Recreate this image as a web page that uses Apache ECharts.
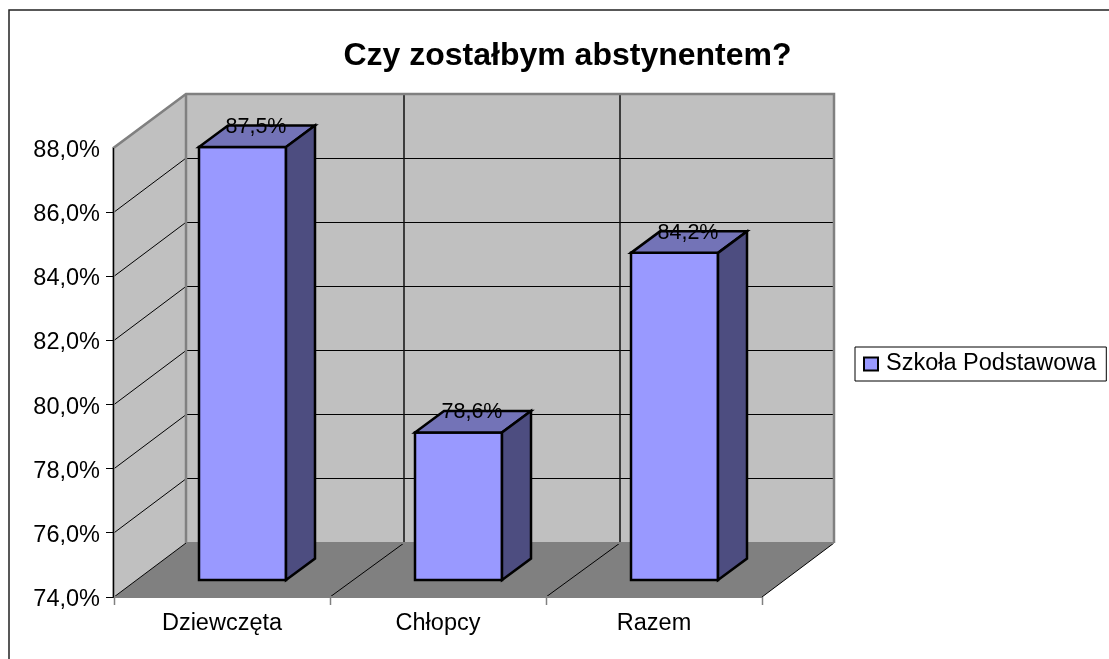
<!DOCTYPE html>
<html><head><meta charset="utf-8">
<style>html,body{margin:0;padding:0;background:#fff}#c{width:1109px;height:659px}</style>
<script src="https://cdn.jsdelivr.net/npm/echarts@6/dist/echarts.min.js"></script>
</head><body><div id="c"></div>
<script>
const categories = ['Dziewczęta', 'Chłopcy', 'Razem'];
const values = [87.5, 78.6, 84.2];
const tickValues = [74, 76, 78, 80, 82, 84, 86, 88];
const seriesName = 'Szkoła Podstawowa';
const chartTitle = 'Czy zostałbym abstynentem?';

const FONT = '"Liberation Sans", Arial, sans-serif';
const DX = 72, DY = -54;           // full floor depth
const GL = 114, GT = 148, GW = 648, GH = 449;
const barFrac = 87 / 216;
const nearX = 20.5, nearY = -17, farX = 49.5, farY = -38.5;
const VGRID_SHIFT = 2;
const WALL = '#c0c0c0', FLOOR = '#808080', EDGE = '#808080';

const chart = echarts.init(document.getElementById('c'), null, {renderer: 'canvas'});

const snap = v => Math.round(v - 0.5) + 0.5;
function line(a, b, stroke, w) {
  return {type: 'line', shape: {x1: a[0], y1: a[1], x2: b[0], y2: b[1]}, style: {stroke, lineWidth: w}, silent: true};
}
function poly(pts, fill, stroke, w) {
  return {type: 'polygon', shape: {points: pts}, style: {fill, stroke: stroke || 'none', lineWidth: w || 0, lineJoin: 'miter'}, silent: true};
}

function renderWalls(params, api) {
  const left = params.coordSys.x, width = params.coordSys.width;
  const yBot = api.coord([0, 74])[1], yTop = api.coord([0, 88])[1];
  const right = left + width;
  const kids = [];
  kids.push(poly([[left, yTop], [left + DX, yTop + DY], [left + DX, yBot + DY], [left, yBot]], WALL));
  kids.push(poly([[left + DX, yTop + DY], [right + DX, yTop + DY], [right + DX, yBot + DY], [left + DX, yBot + DY]], WALL));
  kids.push(poly([[left, yBot], [left + DX, yBot + DY], [right + DX, yBot + DY], [right, yBot]], FLOOR));
  tickValues.forEach(function (t, i) {
    const y = api.coord([0, t])[1];
    if (i > 0 && i < tickValues.length - 1) {
      kids.push(line([left, y], [left + DX, y + DY], '#000', 1));
      const sy = snap(y + DY);
      kids.push(line([left + DX, sy], [right + DX, sy], '#000', 1));
    }
  });
  for (let i = 1; i < categories.length; i++) {
    const x = left + width * i / categories.length;
    const sx = x + DX + VGRID_SHIFT;
    kids.push(line([sx, yTop + DY], [sx, yBot + DY], '#111', 1.5));
    kids.push(line([x, yBot], [sx, yBot + DY], '#000', 1));
  }
  kids.push(line([left, yBot], [left + DX, yBot + DY], '#000', 1));
  kids.push(line([right, yBot], [right + DX, yBot + DY], '#000', 1));
  kids.push({type: 'polyline', shape: {points: [[left - 0.5, yBot], [left - 0.5, yTop], [left + DX, yTop + DY], [right + DX, yTop + DY], [right + DX, yBot + DY]]},
    style: {fill: 'none', stroke: EDGE, lineWidth: 2.5}, silent: true});
  kids.push(line([left + DX, yTop + DY], [left + DX, yBot + DY], EDGE, 2.5));
  kids.push(line([left + DX, yBot + DY], [right + DX, yBot + DY], EDGE, 2));
  kids.push(line([left, yBot], [right, yBot], EDGE, 2));
  kids.push(line([left - 0.5, yTop], [left - 0.5, yBot], '#000', 1));
  tickValues.forEach(function (t, i) {
    if (i === tickValues.length - 1) return;
    const y = snap(api.coord([0, t])[1]);
    kids.push(line([left - 8, y], [left, y], '#000', 1));
  });
  for (let i = 0; i <= categories.length; i++) {
    const x = snap(left + width * i / categories.length);
    kids.push(line([x, yBot], [x, yBot + 8], EDGE, 1.5));
  }
  return {type: 'group', children: kids};
}

function renderBar(params, api) {
  const cat = api.value(0), val = api.value(1);
  const cw = params.coordSys.width / categories.length;
  const cx = api.coord([cat, val])[0];
  const yT = api.coord([cat, val])[1], yB = api.coord([cat, 74])[1];
  const bw = cw * barFrac;
  const x0 = cx - bw / 2 + nearX, x1 = x0 + bw;
  const yt = yT + nearY, yb = yB + nearY;
  const ddx = farX - nearX, ddy = farY - nearY;
  const S = '#000', W = 2.5;
  return {type: 'group', children: [
    poly([[x0, yb], [x1, yb], [x1, yt], [x0, yt]], '#9999ff', S, W),
    poly([[x0, yt], [x1, yt], [x1 + ddx, yt + ddy], [x0 + ddx, yt + ddy]], '#7373b7', S, W),
    poly([[x1, yb], [x1 + ddx, yb + ddy], [x1 + ddx, yt + ddy], [x1, yt]], '#4d4d80', S, W),
    {type: 'text', x: (x0 + x1) / 2 + ddx / 2 - 1, y: yt + ddy + 1.5,
      style: {text: val.toFixed(1).replace('.', ',') + '%', fill: '#000', font: '21.5px ' + FONT, textAlign: 'center', textVerticalAlign: 'middle'}, silent: true, z2: 10}
  ]};
}

chart.setOption({
  animation: false,
  backgroundColor: '#fff',
  title: {text: chartTitle, left: 562.5, top: 35, textAlign: 'center',
    textStyle: {fontFamily: FONT, fontSize: 32, fontWeight: 'bold', color: '#000'}},
  graphic: [{type: 'rect', shape: {x: 9, y: 10, width: 1110, height: 660}, style: {fill: 'none', stroke: '#222', lineWidth: 1.5}, silent: true, z: -1}],
  legend: {show: true, left: 855, top: 347, orient: 'horizontal', padding: [5, 10, 5, 8],
    backgroundColor: '#fff', borderColor: '#000', borderWidth: 1, borderRadius: 0,
    itemWidth: 14, itemHeight: 13, itemGap: 0,
    textStyle: {fontFamily: FONT, fontSize: 23.5, color: '#000', padding: [0, 0, 0, 3]},
    data: [{name: seriesName, icon: 'rect', itemStyle: {color: '#9999ff', borderColor: '#000', borderWidth: 2}}]},
  grid: {left: GL, top: GT, width: GW, height: GH, show: false},
  xAxis: {type: 'category', data: categories, boundaryGap: true,
    axisLine: {show: false}, axisTick: {show: false}, splitLine: {show: false},
    axisLabel: {fontFamily: FONT, fontSize: 23.5, color: '#000', margin: 15}},
  yAxis: {type: 'value', min: 74, max: 88, interval: 2,
    axisLine: {show: false}, axisTick: {show: false}, splitLine: {show: false},
    axisLabel: {fontFamily: FONT, fontSize: 23.5, color: '#000', margin: 14, verticalAlign: 'top', lineHeight: 5,
      formatter: v => v.toFixed(1).replace('.', ',') + '%'}},
  series: [
    {type: 'custom', name: 'walls', renderItem: renderWalls, data: [[0, 74]], silent: true, z: 1,
      encode: {x: 0, y: 1}, clip: false},
    {type: 'custom', name: seriesName, renderItem: renderBar, silent: true, z: 2, clip: false,
      itemStyle: {color: '#9999ff'}, encode: {x: 0, y: 1},
      data: categories.map((c, i) => [i, values[i]])}
  ]
});
</script></body></html>
